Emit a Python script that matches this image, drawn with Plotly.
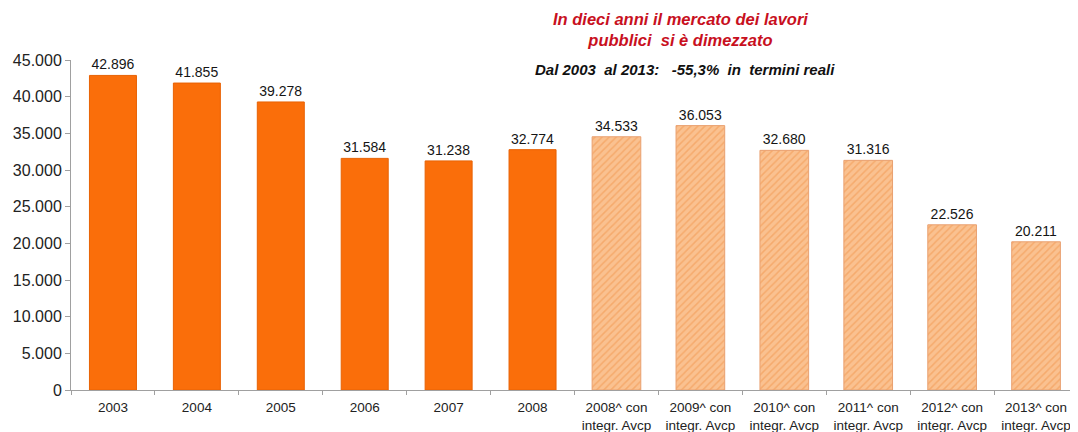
import plotly.graph_objects as go

cats_solid = ["2003", "2004", "2005", "2006", "2007", "2008"]
vals_solid = [42896, 41855, 39278, 31584, 31238, 32774]
cats_hatch = ["2008^ con<br>integr. Avcp", "2009^ con<br>integr. Avcp", "2010^ con<br>integr. Avcp",
              "2011^ con<br>integr. Avcp", "2012^ con<br>integr. Avcp", "2013^ con<br>integr. Avcp"]
vals_hatch = [34533, 36053, 32680, 31316, 22526, 20211]
y_ticks = [0, 5000, 10000, 15000, 20000, 25000, 30000, 35000, 40000, 45000]

FONT = "Liberation Sans, Arial, sans-serif"

# page body has an 8px margin: size the figure so it fills the rest of the window
W, H = 1070, 424
L, R, T, B = 63, 0, 52, 42

fig = go.Figure()
fig.add_trace(go.Bar(
    x=cats_solid, y=vals_solid, width=0.56,
    marker=dict(color="#FA6E0A", line=dict(color="#E86204", width=1)),
    texttemplate="%{y:,.0f}", textposition="outside",
    textfont=dict(family=FONT, size=14, color="#151515"),
    cliponaxis=False, showlegend=False,
))
fig.add_trace(go.Bar(
    x=cats_hatch, y=vals_hatch, width=0.58,
    marker=dict(color="#F8B57C", line=dict(color="#E9A070", width=1),
                pattern=dict(shape="/", bgcolor="#FAC190", fgcolor="#F0944A",
                             size=5, solidity=0.3)),
    texttemplate="%{y:,.0f}", textposition="outside",
    textfont=dict(family=FONT, size=14, color="#151515"),
    cliponaxis=False, showlegend=False,
))

pw = W - L - R
ph = H - T - B
def px_to_paper(x, y):
    # x, y in window pixels
    return (x - 8 - L) / pw, (H - B - (y - 8)) / ph

tx, ty = px_to_paper(680, 8)
sx, sy = px_to_paper(685, 70)

fig.update_layout(
    width=W, height=H,
    margin=dict(l=L, r=R, t=T, b=B, autoexpand=False),
    paper_bgcolor="white", plot_bgcolor="white",
    separators=",.",
    barmode="overlay",
    font=dict(family=FONT, size=14, color="#222222"),
    xaxis=dict(
        categoryorder="array", categoryarray=cats_solid + cats_hatch,
        showline=True, linecolor="#A0A0A0", linewidth=1,
        ticks="outside", tickson="boundaries", ticklen=4, tickcolor="#A0A0A0",
        ticklabelstandoff=5,
        tickfont=dict(family=FONT, size=13.5, color="#222222"),
        showgrid=False,
    ),
    yaxis=dict(
        range=[0, 45000], tickvals=y_ticks, tickformat=",.0f",
        showline=True, linecolor="#A0A0A0", linewidth=1,
        ticks="outside", ticklen=5, tickcolor="#A0A0A0",
        tickfont=dict(family=FONT, size=16, color="#222222"),
        showgrid=False, zeroline=False,
    ),
    annotations=[
        dict(text="<b><i>In dieci anni il mercato dei lavori<br>pubblici  si è dimezzato</i></b>",
             x=tx, y=ty, xref="paper", yref="paper", showarrow=False,
             font=dict(family=FONT, size=16.5, color="#C8101E"), align="center",
             xanchor="center", yanchor="top"),
        dict(text="<b><i>Dal 2003  al 2013:   -55,3%  in  termini reali</i></b>",
             x=sx, y=sy, xref="paper", yref="paper", showarrow=False,
             font=dict(family=FONT, size=15, color="#111111"),
             xanchor="center", yanchor="middle"),
    ],
)

fig.write_html("out.html")
